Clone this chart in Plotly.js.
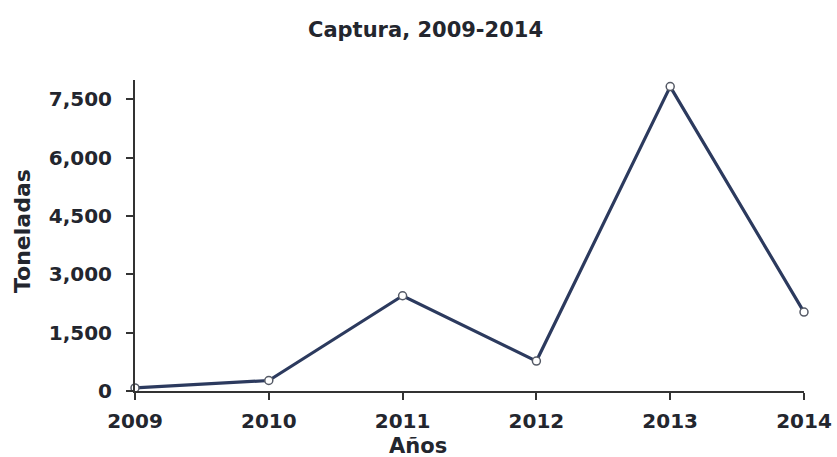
<!DOCTYPE html>
<html><head><meta charset="utf-8">
<script src="https://cdn.plot.ly/plotly-3.0.1.min.js"></script>
<style>html,body{margin:0;padding:0;background:#fff}</style>
</head><body>
<div id="chart" style="width:837px;height:457px"></div>
<script>
var years = [2009, 2010, 2011, 2012, 2013, 2014];
var toneladas = [80, 270, 2450, 770, 7830, 2030];
var yTicks = [0, 1500, 3000, 4500, 6000, 7500];
var yTickLabels = ['0', '1,500', '3,000', '4,500', '6,000', '7,500'];

var FF = 'DejaVu Sans, Arial, sans-serif';
var TXT = '#23262e';
var trace = {
  x: years, y: toneladas, type: 'scatter', mode: 'lines+markers',
  line: {color: '#2c3a5e', width: 3.2},
  marker: {symbol: 'circle', size: 8, color: '#ffffff', line: {color: '#555a66', width: 1.5}},
  cliponaxis: false, hoverinfo: 'skip'
};
var W = 837, H = 457, L = 135, R = 33, T = 80, B = 66;
var layout = {
  width: W, height: H,
  margin: {l: L, r: R, t: T, b: B},
  paper_bgcolor: '#fff', plot_bgcolor: '#fff',
  showlegend: false,
  xaxis: {
    range: [2009, 2014], tickvals: years, ticktext: years.map(String),
    showgrid: false, zeroline: false, showline: true, linecolor: '#333', linewidth: 2,
    ticks: 'outside', ticklen: 7, tickwidth: 2, tickcolor: '#333', ticklabelstandoff: 4,
    tickfont: {family: FF, size: 20, color: TXT, weight: 'bold'}
  },
  yaxis: {
    range: [0, 8000], tickvals: yTicks, ticktext: yTickLabels,
    showgrid: false, zeroline: false, showline: true, linecolor: '#333', linewidth: 2,
    ticks: 'outside', ticklen: 7, tickwidth: 2, tickcolor: '#333', ticklabelstandoff: 10,
    tickfont: {family: FF, size: 20, color: TXT, weight: 'bold'}
  },
  annotations: [
    {text: '<b>Captura, 2009-2014</b>', xref: 'paper', yref: 'paper',
     x: (425 - L) / (W - L - R), y: (H - B - 30) / (H - T - B), xanchor: 'center', yanchor: 'middle',
     showarrow: false, font: {family: FF, size: 21, color: TXT}},
    {text: '<b>Años</b>', xref: 'paper', yref: 'paper',
     x: (418 - L) / (W - L - R), y: (H - B - 446) / (H - T - B), xanchor: 'center', yanchor: 'middle',
     showarrow: false, font: {family: FF, size: 21, color: TXT}},
    {text: '<b>Toneladas</b>', xref: 'paper', yref: 'paper', textangle: -90,
     x: (22 - L) / (W - L - R), y: (H - B - 231) / (H - T - B), xanchor: 'center', yanchor: 'middle',
     showarrow: false, font: {family: FF, size: 22, color: TXT}}
  ]
};
Plotly.newPlot('chart', [trace], layout, {staticPlot: true});
</script>
</body></html>
